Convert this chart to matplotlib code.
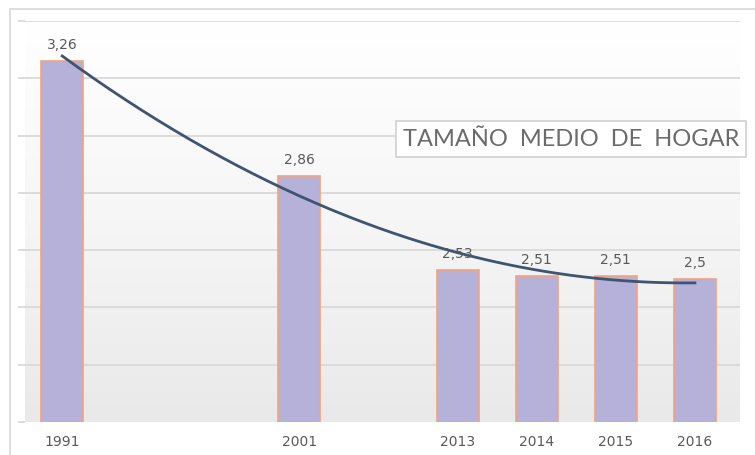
import numpy as np
import matplotlib
matplotlib.use("Agg")
import matplotlib.pyplot as plt
from matplotlib.patches import Rectangle

years = ['1991', '2001', '2013', '2014', '2015', '2016']
values = [3.26, 2.86, 2.53, 2.51, 2.51, 2.5]
labels = ['3,26', '2,86', '2,53', '2,51', '2,51', '2,5']
# slot of each year on the category axis (empty slots between 1991/2001/2013)
slots = np.array([0, 3, 5, 6, 7, 8])

fig = plt.figure(figsize=(7.55, 4.56), dpi=100)
ax = fig.add_axes([25/755, 1-423/456, 715/755, 401/456])

# background gradient white -> light grey
grad = np.linspace(0, 1, 256).reshape(-1, 1)
ax.imshow(grad, extent=[0, 1, 0, 1], transform=ax.transAxes, aspect='auto',
          cmap=matplotlib.colors.LinearSegmentedColormap.from_list('g', ['#e9e9e9', '#f6f6f6', '#ffffff']),
          origin='lower', zorder=0)

ax.set_ylim(2.0, 3.4)
ax.set_xlim(-0.47, 8.57)
for g in np.arange(2.2, 3.41, 0.2):
    ax.axhline(g, color='#d9d9d9', lw=1.3, zorder=1)

ax.bar(slots, [v - 2.0 for v in values], bottom=2.0, width=0.53,
       color='#b5b1d9', edgecolor='#f5a27c', linewidth=1.2, zorder=2)

for s, v, t in zip(slots, values, labels):
    ax.text(s, v + 0.035, t, ha='center', va='bottom', fontsize=10,
            color='#595959', zorder=4)

# polynomial (order 2) trend line
c = np.polyfit(slots, values, 2)
xs = np.linspace(0, 8, 200)
ax.plot(xs, np.polyval(c, xs), color='#3e5470', lw=2, zorder=3)

ax.set_xticks(slots)
ax.set_xticklabels(years, fontsize=10, color='#595959')
ax.tick_params(axis='x', length=0, pad=9)
ax.set_yticks(np.arange(2.0, 3.41, 0.2))
ax.set_yticklabels([])
ax.tick_params(axis='y', length=5, color='#d9d9d9', width=1.3)
for sp in ax.spines.values():
    sp.set_visible(False)

fig.text(571/755, 1-140/456, 'TAMAÑO  MEDIO  DE  HOGAR', ha='center', va='center',
         fontsize=17, color='#6b6b6b', family='Lato',
         bbox=dict(boxstyle='square,pad=0.3', fc='white', ec='#d0d0d0', lw=1.2))

fig.patches.append(Rectangle((10/755, -0.05), 1.0, 1-10/456+0.05,
                             transform=fig.transFigure, fill=False,
                             ec='#d9d9d9', lw=1.2, zorder=0))

fig.savefig('out.png', dpi=100)
